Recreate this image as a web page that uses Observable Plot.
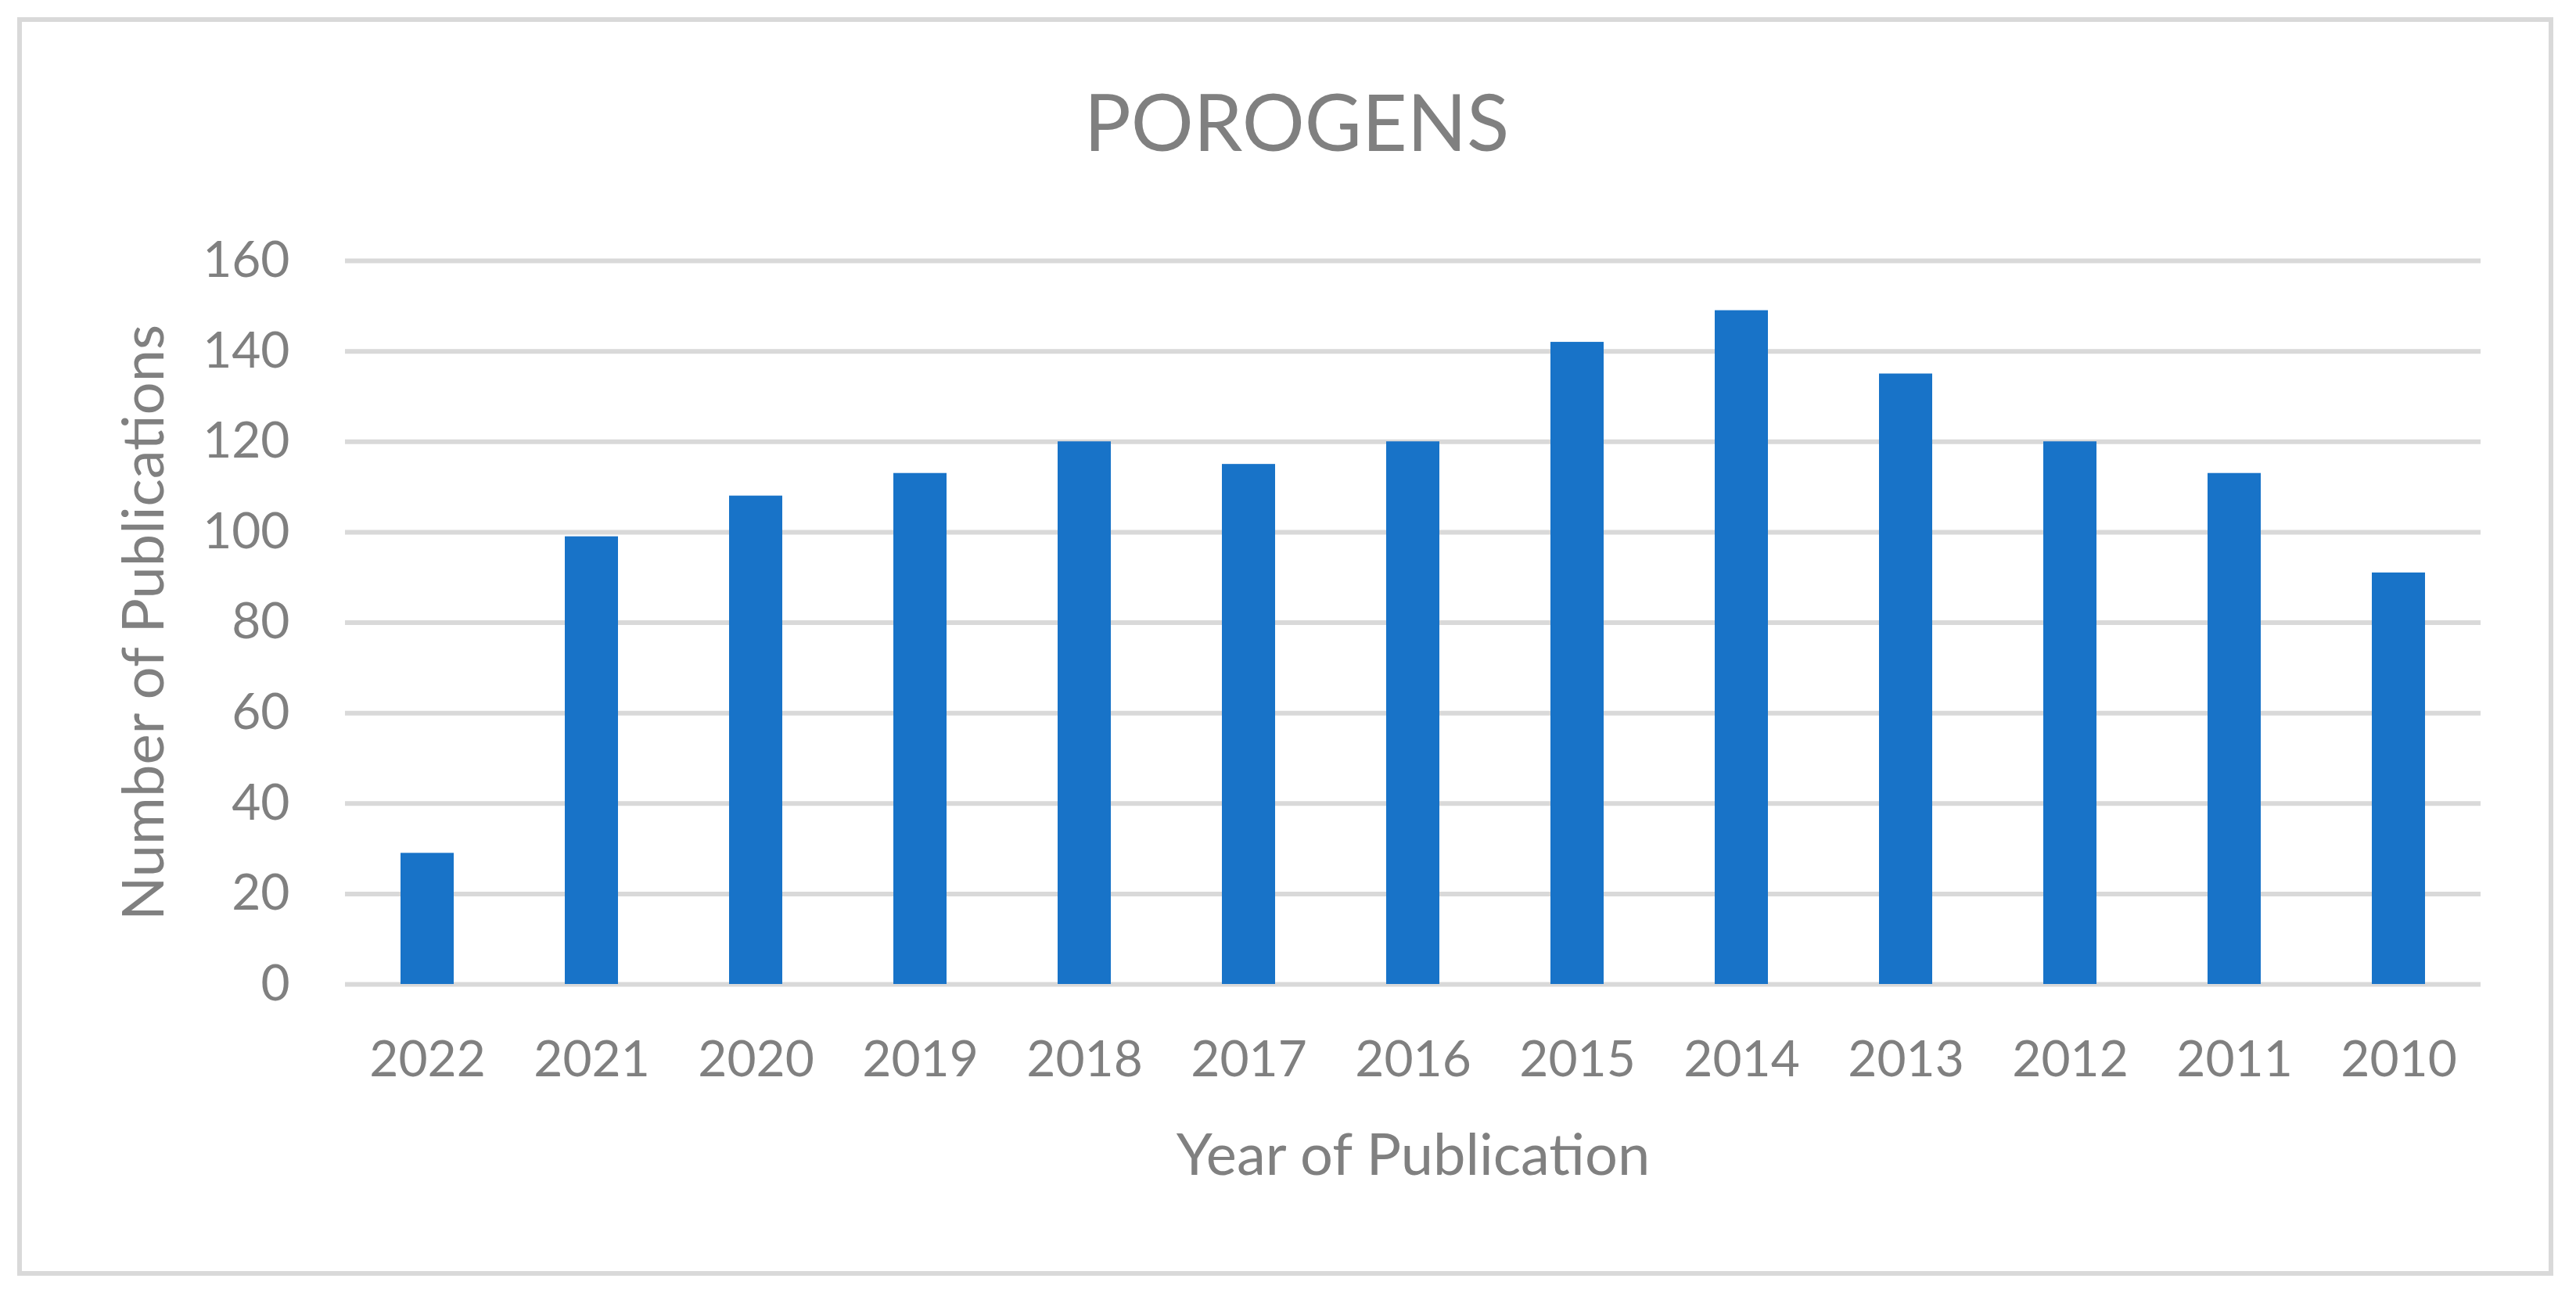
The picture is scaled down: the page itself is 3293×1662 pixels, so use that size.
<!DOCTYPE html>
<html>
<head>
<meta charset="utf-8">
<script src="https://cdn.jsdelivr.net/npm/d3@7"></script>
<script src="https://cdn.jsdelivr.net/npm/@observablehq/plot@0.6"></script>
<style>
  html, body { margin: 0; padding: 0; background: #fff; }
  #wrap { position: relative; width: 3293px; height: 1662px; background: #fff; }
  #border { position: absolute; left: 22px; top: 22px; width: 3242px; height: 1609px;
            border: 6px solid #d9d9d9; box-sizing: border-box; pointer-events: none; }
  #wrap svg { position: absolute; left: 0; top: 0; }
</style>
</head>
<body>
<div id="wrap"><div id="border"></div></div>
<script>
const years = ["2022","2021","2020","2019","2018","2017","2016","2015","2014","2013","2012","2011","2010"];
const counts = [29, 99, 108, 113, 120, 115, 120, 142, 149, 135, 120, 113, 91];
const yTicks = [0, 20, 40, 60, 80, 100, 120, 140, 160];
const chartTitle = "POROGENS";
const xTitle = "Year of Publication";
const yTitle = "Number of Publications";

const data = years.map((y, i) => ({year: y, count: counts[i]}));
const textColor = "#808080";
const font = "Lato, 'Open Sans', sans-serif";

const chart = Plot.plot({
  width: 3293,
  height: 1662,
  marginTop: 333,
  marginBottom: 404,
  marginLeft: 441,
  marginRight: 122,
  style: {fontFamily: font, color: textColor, background: "transparent"},
  x: {domain: years, paddingInner: 0.676, paddingOuter: 0.338, label: null},
  y: {domain: [0, 160], label: null},
  marks: [
    Plot.ruleY(yTicks, {stroke: "#d9d9d9", strokeWidth: 6}),
    Plot.barY(data, {x: "year", y: "count", fill: "#1873C8"}),
    Plot.axisY({ticks: yTicks, tickSize: 0, tickPadding: 71, fontSize: 64, fill: textColor, label: null}),
    Plot.axisX({tickSize: 0, tickPadding: 72, fontSize: 64, fill: textColor, label: null}),
    Plot.text([chartTitle], {frameAnchor: "top", dy: -173, dx: -149, fontSize: 100, fill: textColor, lineAnchor: "middle", textAnchor: "middle"}),
    Plot.text([xTitle], {frameAnchor: "bottom", dy: 220, fontSize: 74, fill: textColor, lineAnchor: "middle", textAnchor: "middle"}),
    Plot.text([yTitle], {frameAnchor: "left", dx: -256, rotate: -90, fontSize: 74, fill: textColor, lineAnchor: "middle", textAnchor: "middle"})
  ]
});
document.getElementById("wrap").appendChild(chart);
</script>
</body>
</html>
